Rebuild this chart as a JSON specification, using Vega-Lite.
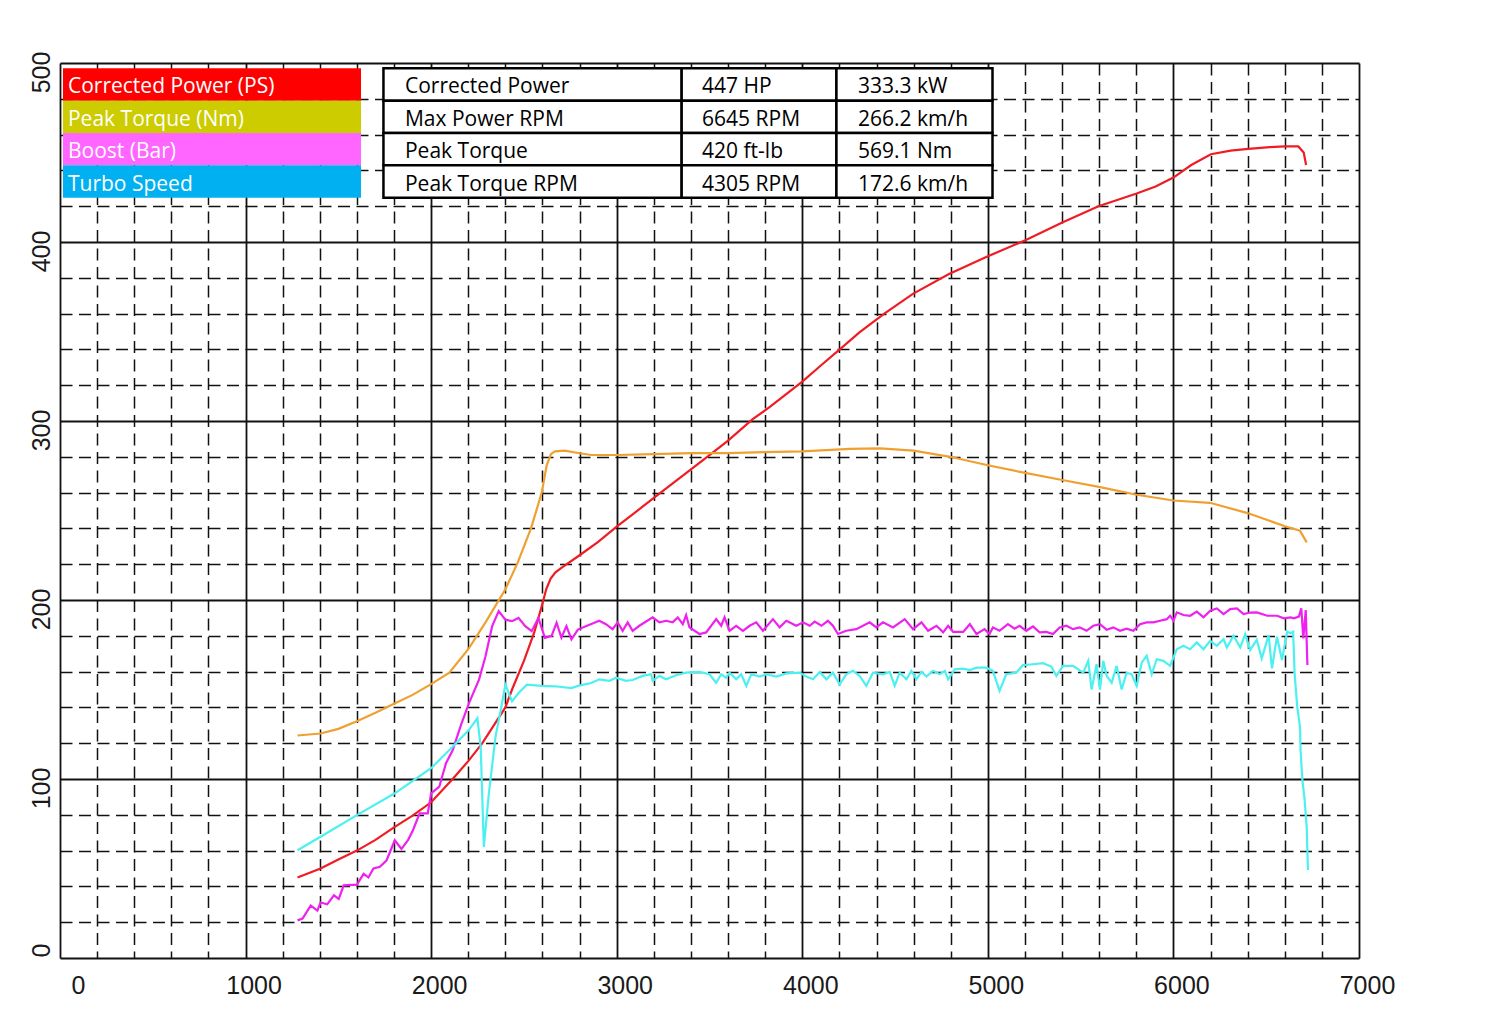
{
  "$schema": "https://vega.github.io/schema/vega-lite/v6.json",
  "width": 1299,
  "height": 895,
  "autosize": {"type": "none"},
  "padding": {"left": 60, "top": 63, "right": 146, "bottom": 76},
  "background": "white",
  "config": {"view": {"stroke": null}, "font": "Liberation Sans"},
  "datasets": {
    "table": [
      {"row": 1, "legend": "Corrected Power (PS)", "name": "Corrected Power", "v1": "447 HP", "v2": "333.3 kW"},
      {"row": 2, "legend": "Peak Torque (Nm)", "name": "Max Power RPM", "v1": "6645 RPM", "v2": "266.2 km/h"},
      {"row": 3, "legend": "Boost (Bar)", "name": "Peak Torque", "v1": "420 ft-lb", "v2": "569.1 Nm"},
      {"row": 4, "legend": "Turbo Speed", "name": "Peak Torque RPM", "v1": "4305 RPM", "v2": "172.6 km/h"}
    ],
    "power": [
      {"rpm": 1280, "value": 45}, {"rpm": 1404, "value": 50}, {"rpm": 1500, "value": 55}, {"rpm": 1600, "value": 60},
      {"rpm": 1700, "value": 66}, {"rpm": 1800, "value": 73}, {"rpm": 1900, "value": 79.5}, {"rpm": 2000, "value": 87},
      {"rpm": 2116, "value": 100}, {"rpm": 2200, "value": 110}, {"rpm": 2276, "value": 120}, {"rpm": 2400, "value": 140},
      {"rpm": 2436, "value": 150}, {"rpm": 2500, "value": 166}, {"rpm": 2556, "value": 182}, {"rpm": 2600, "value": 198},
      {"rpm": 2620, "value": 206}, {"rpm": 2644, "value": 212}, {"rpm": 2670, "value": 215.5}, {"rpm": 2702, "value": 218},
      {"rpm": 2800, "value": 225}, {"rpm": 2900, "value": 232.5},
      {"rpm": 3000, "value": 241}, {"rpm": 3100, "value": 249}, {"rpm": 3200, "value": 257}, {"rpm": 3300, "value": 265},
      {"rpm": 3400, "value": 273}, {"rpm": 3500, "value": 281}, {"rpm": 3600, "value": 289}, {"rpm": 3733, "value": 301},
      {"rpm": 3827, "value": 308}, {"rpm": 4000, "value": 322}, {"rpm": 4100, "value": 331}, {"rpm": 4202, "value": 340},
      {"rpm": 4308, "value": 349.5}, {"rpm": 4442, "value": 360}, {"rpm": 4596, "value": 371}, {"rpm": 4788, "value": 382},
      {"rpm": 5000, "value": 392}, {"rpm": 5202, "value": 401}, {"rpm": 5404, "value": 411}, {"rpm": 5596, "value": 420},
      {"rpm": 5798, "value": 427}, {"rpm": 5904, "value": 431}, {"rpm": 6000, "value": 436}, {"rpm": 6096, "value": 443},
      {"rpm": 6202, "value": 449}, {"rpm": 6308, "value": 451}, {"rpm": 6404, "value": 452}, {"rpm": 6519, "value": 453},
      {"rpm": 6600, "value": 453.4}, {"rpm": 6673, "value": 453.4}, {"rpm": 6702, "value": 450}, {"rpm": 6715, "value": 443}
    ],
    "torque": [
      {"rpm": 1280, "value": 124.3}, {"rpm": 1404, "value": 125.4}, {"rpm": 1500, "value": 128}, {"rpm": 1600, "value": 132.3},
      {"rpm": 1700, "value": 137}, {"rpm": 1800, "value": 142}, {"rpm": 1900, "value": 147}, {"rpm": 2000, "value": 153},
      {"rpm": 2098, "value": 159.4}, {"rpm": 2200, "value": 172.5}, {"rpm": 2293, "value": 187.5}, {"rpm": 2400, "value": 206},
      {"rpm": 2467, "value": 221}, {"rpm": 2538, "value": 240}, {"rpm": 2596, "value": 260}, {"rpm": 2622, "value": 275},
      {"rpm": 2645, "value": 281.5}, {"rpm": 2667, "value": 283}, {"rpm": 2720, "value": 283.4}, {"rpm": 2800, "value": 282}, {"rpm": 2862, "value": 281},
      {"rpm": 3000, "value": 281}, {"rpm": 3200, "value": 281.5}, {"rpm": 3400, "value": 282}, {"rpm": 3600, "value": 282},
      {"rpm": 3858, "value": 282.8}, {"rpm": 4000, "value": 283}, {"rpm": 4256, "value": 284.4}, {"rpm": 4420, "value": 284.7},
      {"rpm": 4600, "value": 283.4}, {"rpm": 4797, "value": 280}, {"rpm": 5000, "value": 275.3}, {"rpm": 5201, "value": 271},
      {"rpm": 5408, "value": 266.9}, {"rpm": 5605, "value": 263.1}, {"rpm": 5802, "value": 258.8}, {"rpm": 6000, "value": 255.6},
      {"rpm": 6197, "value": 254.3}, {"rpm": 6395, "value": 248.7}, {"rpm": 6601, "value": 241.2}, {"rpm": 6682, "value": 238.7},
      {"rpm": 6718, "value": 232.2}
    ],
    "boost": [
      {"rpm": 1280, "value": 21}, {"rpm": 1307, "value": 22}, {"rpm": 1351, "value": 29.3}, {"rpm": 1387, "value": 26.5},
      {"rpm": 1404, "value": 31}, {"rpm": 1440, "value": 30}, {"rpm": 1476, "value": 35}, {"rpm": 1502, "value": 33},
      {"rpm": 1529, "value": 40.6}, {"rpm": 1600, "value": 41}, {"rpm": 1636, "value": 47}, {"rpm": 1662, "value": 45},
      {"rpm": 1689, "value": 50}, {"rpm": 1724, "value": 51}, {"rpm": 1760, "value": 54.6}, {"rpm": 1804, "value": 65.8},
      {"rpm": 1840, "value": 61}, {"rpm": 1876, "value": 66}, {"rpm": 1902, "value": 71.4}, {"rpm": 1938, "value": 80.8},
      {"rpm": 1982, "value": 80.8}, {"rpm": 2000, "value": 92}, {"rpm": 2044, "value": 95.7}, {"rpm": 2080, "value": 108.8},
      {"rpm": 2116, "value": 116}, {"rpm": 2160, "value": 130}, {"rpm": 2204, "value": 142.4}, {"rpm": 2258, "value": 155.5},
      {"rpm": 2293, "value": 168.6}, {"rpm": 2329, "value": 185.4}, {"rpm": 2364, "value": 193.8}, {"rpm": 2400, "value": 189},
      {"rpm": 2436, "value": 188.2}, {"rpm": 2471, "value": 190}, {"rpm": 2507, "value": 185.4}, {"rpm": 2542, "value": 182.6},
      {"rpm": 2578, "value": 190}, {"rpm": 2613, "value": 178.9}, {"rpm": 2649, "value": 180}, {"rpm": 2676, "value": 187.3},
      {"rpm": 2702, "value": 179}, {"rpm": 2729, "value": 185.4}, {"rpm": 2756, "value": 178}, {"rpm": 2791, "value": 183.5},
      {"rpm": 2827, "value": 185}, {"rpm": 2880, "value": 187.3}, {"rpm": 2906, "value": 188.4}, {"rpm": 2942, "value": 186.5},
      {"rpm": 2978, "value": 183.7}, {"rpm": 3005, "value": 187.5}, {"rpm": 3032, "value": 182.8}, {"rpm": 3059, "value": 187.5},
      {"rpm": 3086, "value": 182.8}, {"rpm": 3122, "value": 185.6}, {"rpm": 3194, "value": 190.3}, {"rpm": 3230, "value": 187.5},
      {"rpm": 3266, "value": 188.4}, {"rpm": 3302, "value": 187.5}, {"rpm": 3329, "value": 190.3}, {"rpm": 3356, "value": 186.5},
      {"rpm": 3374, "value": 191.6}, {"rpm": 3392, "value": 184.7}, {"rpm": 3446, "value": 181}, {"rpm": 3482, "value": 181.9},
      {"rpm": 3536, "value": 189.3}, {"rpm": 3563, "value": 185.6}, {"rpm": 3581, "value": 190.3}, {"rpm": 3608, "value": 182.8},
      {"rpm": 3644, "value": 185.6}, {"rpm": 3680, "value": 182.8}, {"rpm": 3716, "value": 185.6}, {"rpm": 3752, "value": 187.5},
      {"rpm": 3788, "value": 182.8}, {"rpm": 3842, "value": 189.3}, {"rpm": 3878, "value": 184.7}, {"rpm": 3914, "value": 188.4},
      {"rpm": 3968, "value": 185.6}, {"rpm": 4004, "value": 187.5}, {"rpm": 4040, "value": 185.6}, {"rpm": 4067, "value": 187.9},
      {"rpm": 4103, "value": 185.6}, {"rpm": 4138, "value": 188.4}, {"rpm": 4165, "value": 185.6}, {"rpm": 4192, "value": 181},
      {"rpm": 4237, "value": 182.8}, {"rpm": 4291, "value": 183.7}, {"rpm": 4363, "value": 187.5}, {"rpm": 4399, "value": 184.7},
      {"rpm": 4435, "value": 187.5}, {"rpm": 4489, "value": 184.7}, {"rpm": 4552, "value": 189.3}, {"rpm": 4597, "value": 183.7},
      {"rpm": 4642, "value": 187.5}, {"rpm": 4678, "value": 182.8}, {"rpm": 4723, "value": 185.6}, {"rpm": 4759, "value": 181.9},
      {"rpm": 4786, "value": 185.6}, {"rpm": 4813, "value": 182.2}, {"rpm": 4867, "value": 182.2}, {"rpm": 4903, "value": 186.5},
      {"rpm": 4939, "value": 181}, {"rpm": 4982, "value": 183.7}, {"rpm": 5009, "value": 181}, {"rpm": 5027, "value": 184.7},
      {"rpm": 5063, "value": 182.8}, {"rpm": 5108, "value": 186.5}, {"rpm": 5144, "value": 184}, {"rpm": 5171, "value": 185.6},
      {"rpm": 5207, "value": 182.8}, {"rpm": 5243, "value": 185.2}, {"rpm": 5279, "value": 181.9}, {"rpm": 5315, "value": 182.2},
      {"rpm": 5351, "value": 181}, {"rpm": 5387, "value": 184.7}, {"rpm": 5423, "value": 185.6}, {"rpm": 5459, "value": 183.7},
      {"rpm": 5495, "value": 184.7}, {"rpm": 5532, "value": 182.8}, {"rpm": 5568, "value": 185.6}, {"rpm": 5604, "value": 186.5},
      {"rpm": 5640, "value": 183.4}, {"rpm": 5676, "value": 184.7}, {"rpm": 5712, "value": 182.8}, {"rpm": 5748, "value": 184},
      {"rpm": 5784, "value": 182.8}, {"rpm": 5820, "value": 186.5}, {"rpm": 5856, "value": 187.5}, {"rpm": 5892, "value": 187.5},
      {"rpm": 5928, "value": 188.4}, {"rpm": 5964, "value": 189.3}, {"rpm": 5982, "value": 191.2}, {"rpm": 6000, "value": 188.4},
      {"rpm": 6018, "value": 193.1}, {"rpm": 6054, "value": 191.6}, {"rpm": 6090, "value": 191.2}, {"rpm": 6126, "value": 193.5},
      {"rpm": 6162, "value": 190.3}, {"rpm": 6198, "value": 194}, {"rpm": 6234, "value": 195.3}, {"rpm": 6270, "value": 192.1},
      {"rpm": 6306, "value": 194.9}, {"rpm": 6342, "value": 195.3}, {"rpm": 6378, "value": 192.1}, {"rpm": 6414, "value": 193},
      {"rpm": 6450, "value": 193.1}, {"rpm": 6505, "value": 191.2}, {"rpm": 6559, "value": 191.2}, {"rpm": 6595, "value": 189.8},
      {"rpm": 6631, "value": 190.3}, {"rpm": 6649, "value": 189.8}, {"rpm": 6676, "value": 190.7}, {"rpm": 6689, "value": 195.3},
      {"rpm": 6700, "value": 178.6}, {"rpm": 6713, "value": 194.4}, {"rpm": 6722, "value": 163.7}
    ],
    "turbo": [
      {"rpm": 1280, "value": 60.2}, {"rpm": 1404, "value": 67.7}, {"rpm": 1600, "value": 79.8}, {"rpm": 1804, "value": 92},
      {"rpm": 2000, "value": 106}, {"rpm": 2116, "value": 118}, {"rpm": 2204, "value": 127.5}, {"rpm": 2249, "value": 134},
      {"rpm": 2267, "value": 118}, {"rpm": 2284, "value": 62}, {"rpm": 2311, "value": 92}, {"rpm": 2347, "value": 123.7},
      {"rpm": 2379, "value": 140.6}, {"rpm": 2400, "value": 152.7}, {"rpm": 2436, "value": 143.4}, {"rpm": 2471, "value": 148},
      {"rpm": 2516, "value": 152.7}, {"rpm": 2596, "value": 152}, {"rpm": 2667, "value": 151.8}, {"rpm": 2756, "value": 150.8},
      {"rpm": 2791, "value": 152}, {"rpm": 2862, "value": 153.6}, {"rpm": 2906, "value": 155.7}, {"rpm": 2960, "value": 154.8},
      {"rpm": 2996, "value": 156.6}, {"rpm": 3050, "value": 154.8}, {"rpm": 3086, "value": 155.3}, {"rpm": 3140, "value": 157.6},
      {"rpm": 3185, "value": 158.5}, {"rpm": 3194, "value": 154.8}, {"rpm": 3230, "value": 157.6}, {"rpm": 3266, "value": 155.7},
      {"rpm": 3320, "value": 158}, {"rpm": 3374, "value": 159.4}, {"rpm": 3446, "value": 159.8}, {"rpm": 3500, "value": 158.5},
      {"rpm": 3536, "value": 153.8}, {"rpm": 3563, "value": 158.5}, {"rpm": 3590, "value": 156.6}, {"rpm": 3608, "value": 159.4},
      {"rpm": 3644, "value": 155.7}, {"rpm": 3671, "value": 158.5}, {"rpm": 3698, "value": 152}, {"rpm": 3725, "value": 158.5},
      {"rpm": 3770, "value": 157.2}, {"rpm": 3806, "value": 158.5}, {"rpm": 3860, "value": 157.2}, {"rpm": 3914, "value": 159},
      {"rpm": 3986, "value": 159.4}, {"rpm": 4022, "value": 157.2}, {"rpm": 4058, "value": 155.7}, {"rpm": 4094, "value": 159.8},
      {"rpm": 4130, "value": 155.7}, {"rpm": 4165, "value": 159.4}, {"rpm": 4201, "value": 152.9}, {"rpm": 4237, "value": 158.5},
      {"rpm": 4273, "value": 160.4}, {"rpm": 4309, "value": 157.6}, {"rpm": 4345, "value": 152}, {"rpm": 4381, "value": 159.4},
      {"rpm": 4435, "value": 158.5}, {"rpm": 4471, "value": 159.8}, {"rpm": 4498, "value": 152}, {"rpm": 4525, "value": 159.4},
      {"rpm": 4561, "value": 155.7}, {"rpm": 4588, "value": 160.4}, {"rpm": 4615, "value": 155.7}, {"rpm": 4642, "value": 159.8},
      {"rpm": 4669, "value": 157.2}, {"rpm": 4705, "value": 160.4}, {"rpm": 4741, "value": 158.5}, {"rpm": 4768, "value": 160.4},
      {"rpm": 4786, "value": 155.7}, {"rpm": 4822, "value": 161.3}, {"rpm": 4867, "value": 161.7}, {"rpm": 4903, "value": 160.9},
      {"rpm": 4939, "value": 162.2}, {"rpm": 4991, "value": 162.2}, {"rpm": 5027, "value": 160.4}, {"rpm": 5063, "value": 149.2},
      {"rpm": 5099, "value": 158.5}, {"rpm": 5153, "value": 159.4}, {"rpm": 5189, "value": 163.6}, {"rpm": 5243, "value": 164.1},
      {"rpm": 5297, "value": 164.7}, {"rpm": 5342, "value": 162.8}, {"rpm": 5369, "value": 157.6}, {"rpm": 5405, "value": 163.2},
      {"rpm": 5459, "value": 163.2}, {"rpm": 5514, "value": 159.4}, {"rpm": 5541, "value": 166}, {"rpm": 5559, "value": 150},
      {"rpm": 5586, "value": 164.1}, {"rpm": 5604, "value": 150}, {"rpm": 5622, "value": 166}, {"rpm": 5640, "value": 157.6},
      {"rpm": 5667, "value": 153.8}, {"rpm": 5694, "value": 163.2}, {"rpm": 5721, "value": 150}, {"rpm": 5748, "value": 159.4},
      {"rpm": 5775, "value": 158.5}, {"rpm": 5802, "value": 152}, {"rpm": 5829, "value": 165}, {"rpm": 5856, "value": 168.8},
      {"rpm": 5883, "value": 158.5}, {"rpm": 5910, "value": 166.9}, {"rpm": 5946, "value": 166}, {"rpm": 5982, "value": 163.2},
      {"rpm": 6018, "value": 172.5}, {"rpm": 6054, "value": 174.4}, {"rpm": 6090, "value": 172.5}, {"rpm": 6126, "value": 176.3},
      {"rpm": 6162, "value": 172.5}, {"rpm": 6198, "value": 177.2}, {"rpm": 6234, "value": 174.4}, {"rpm": 6270, "value": 178.1},
      {"rpm": 6288, "value": 173.5}, {"rpm": 6324, "value": 180}, {"rpm": 6360, "value": 173.5}, {"rpm": 6387, "value": 180.9},
      {"rpm": 6413, "value": 172}, {"rpm": 6449, "value": 177.7}, {"rpm": 6476, "value": 167.4}, {"rpm": 6513, "value": 180.4},
      {"rpm": 6531, "value": 161.8}, {"rpm": 6558, "value": 179.5}, {"rpm": 6585, "value": 166.5}, {"rpm": 6613, "value": 182.3},
      {"rpm": 6631, "value": 181.4}, {"rpm": 6645, "value": 182.3}, {"rpm": 6653, "value": 159}, {"rpm": 6667, "value": 140.4},
      {"rpm": 6682, "value": 129.2}, {"rpm": 6685, "value": 116.2}, {"rpm": 6695, "value": 99.4}, {"rpm": 6707, "value": 88.3},
      {"rpm": 6718, "value": 73.4}, {"rpm": 6725, "value": 49.2}
    ]
  },
  "layer": [
    {
      "encoding": {
        "x": {
          "field": "rpm",
          "type": "quantitative",
          "scale": {"domain": [0, 7000], "nice": false},
          "axis": {
            "title": null,
            "values": [0, 200, 400, 600, 800, 1000, 1200, 1400, 1600, 1800, 2000, 2200, 2400, 2600, 2800, 3000, 3200, 3400, 3600, 3800, 4000, 4200, 4400, 4600, 4800, 5000, 5200, 5400, 5600, 5800, 6000, 6200, 6400, 6600, 6800, 7000],
            "format": "d",
            "domain": false,
            "ticks": false,
            "grid": true,
            "gridColor": "#111111",
            "gridOpacity": 1,
            "gridWidth": {"condition": {"test": "datum.value % 1000 === 0", "value": 1.8}, "value": 1.5},
            "gridDash": {"condition": {"test": "datum.value % 1000 === 0", "value": []}, "value": [12, 6.5]},
            "labelExpr": "datum.value % 1000 === 0 ? datum.label : ''",
            "labelFont": "Liberation Sans",
            "labelFontSize": 25,
            "labelColor": "#1a1a1a",
            "labelPadding": 15,
            "labelFlush": false,
            "labelOverlap": false,
            "labelOffset": {"condition": {"test": "datum.value === 0", "value": 18}, "value": 8}
          }
        },
        "y": {
          "field": "value",
          "type": "quantitative",
          "scale": {"domain": [0, 500], "nice": false},
          "axis": {
            "title": null,
            "values": [0, 20, 40, 60, 80, 100, 120, 140, 160, 180, 200, 220, 240, 260, 280, 300, 320, 340, 360, 380, 400, 420, 440, 460, 480, 500],
            "domain": false,
            "ticks": false,
            "grid": true,
            "gridColor": "#111111",
            "gridOpacity": 1,
            "gridWidth": {"condition": {"test": "datum.value % 100 === 0", "value": 1.8}, "value": 1.5},
            "gridDash": {"condition": {"test": "datum.value % 100 === 0", "value": []}, "value": [12, 6.5]},
            "labelExpr": "datum.value % 100 === 0 ? datum.label : ''",
            "labelFont": "Liberation Sans",
            "labelFontSize": 25,
            "labelColor": "#1a1a1a",
            "labelAngle": -90,
            "labelPadding": 6,
            "labelFlush": false,
            "labelOverlap": false,
            "labelOffset": {"condition": {"test": "datum.value === 0", "value": -8}, "value": 9}
          }
        }
      },
      "layer": [
        {
          "data": {"values": [{}]},
          "mark": {"type": "rect", "fill": "white", "stroke": "black", "strokeWidth": 1.2},
          "encoding": {"x": {"datum": 16}, "x2": {"datum": 1743}, "y": {"datum": 497}, "y2": {"datum": 425}}
        },
        {"data": {"name": "power"}, "mark": {"type": "line", "color": "#f01c24", "strokeWidth": 2.2}},
        {"data": {"name": "torque"}, "mark": {"type": "line", "color": "#f0a030", "strokeWidth": 2.2}},
        {"data": {"name": "boost"}, "mark": {"type": "line", "color": "#ee22ee", "strokeWidth": 2.2}},
        {"data": {"name": "turbo"}, "mark": {"type": "line", "color": "#4df0f0", "strokeWidth": 2.2}}
      ]
    },
    {
      "data": {"name": "table"},
      "encoding": {
        "y": {
          "field": "row",
          "type": "ordinal",
          "axis": null,
          "scale": {
            "domain": [1, 2, 3, 4, 5, 6, 7, 8, 9, 10, 11, 12, 13, 14, 15, 16, 17, 18, 19, 20, 21, 22, 23, 24, 25, 26],
            "paddingInner": 0,
            "paddingOuter": 0.833,
            "align": 0.098,
            "round": false
          }
        }
      },
      "layer": [
        {
          "mark": {"type": "rect"},
          "encoding": {
            "x": {"datum": 16, "axis": null},
            "x2": {"datum": 1622},
            "color": {
              "field": "legend",
              "type": "nominal",
              "legend": null,
              "scale": {
                "domain": ["Corrected Power (PS)", "Peak Torque (Nm)", "Boost (Bar)", "Turbo Speed"],
                "range": ["#ff0000", "#cccc00", "#ff66ff", "#00b0f0"]
              }
            }
          }
        },
        {
          "mark": {"type": "text", "align": "left", "dy": 3, "color": "white", "font": "Open Sans", "fontSize": 21},
          "encoding": {"x": {"datum": 43, "axis": null}, "text": {"field": "legend"}}
        },
        {
          "mark": {"type": "rect", "fill": "white", "stroke": "black", "strokeWidth": 2.5},
          "encoding": {"x": {"datum": 1743, "axis": null}, "x2": {"datum": 3350}}
        },
        {
          "mark": {"type": "rect", "fill": "white", "stroke": "black", "strokeWidth": 2.5},
          "encoding": {"x": {"datum": 3350, "axis": null}, "x2": {"datum": 4184}}
        },
        {
          "mark": {"type": "rect", "fill": "white", "stroke": "black", "strokeWidth": 2.5},
          "encoding": {"x": {"datum": 4184, "axis": null}, "x2": {"datum": 5025}}
        },
        {
          "mark": {"type": "text", "align": "left", "dy": 3, "color": "black", "font": "Open Sans", "fontSize": 21},
          "encoding": {"x": {"datum": 1859, "axis": null}, "text": {"field": "name"}}
        },
        {
          "mark": {"type": "text", "align": "left", "dy": 3, "color": "black", "font": "Open Sans", "fontSize": 21},
          "encoding": {"x": {"datum": 3460, "axis": null}, "text": {"field": "v1"}}
        },
        {
          "mark": {"type": "text", "align": "left", "dy": 3, "color": "black", "font": "Open Sans", "fontSize": 21},
          "encoding": {"x": {"datum": 4300, "axis": null}, "text": {"field": "v2"}}
        }
      ]
    }
  ],
  "resolve": {"scale": {"y": "independent"}, "axis": {"x": "independent"}}
}
